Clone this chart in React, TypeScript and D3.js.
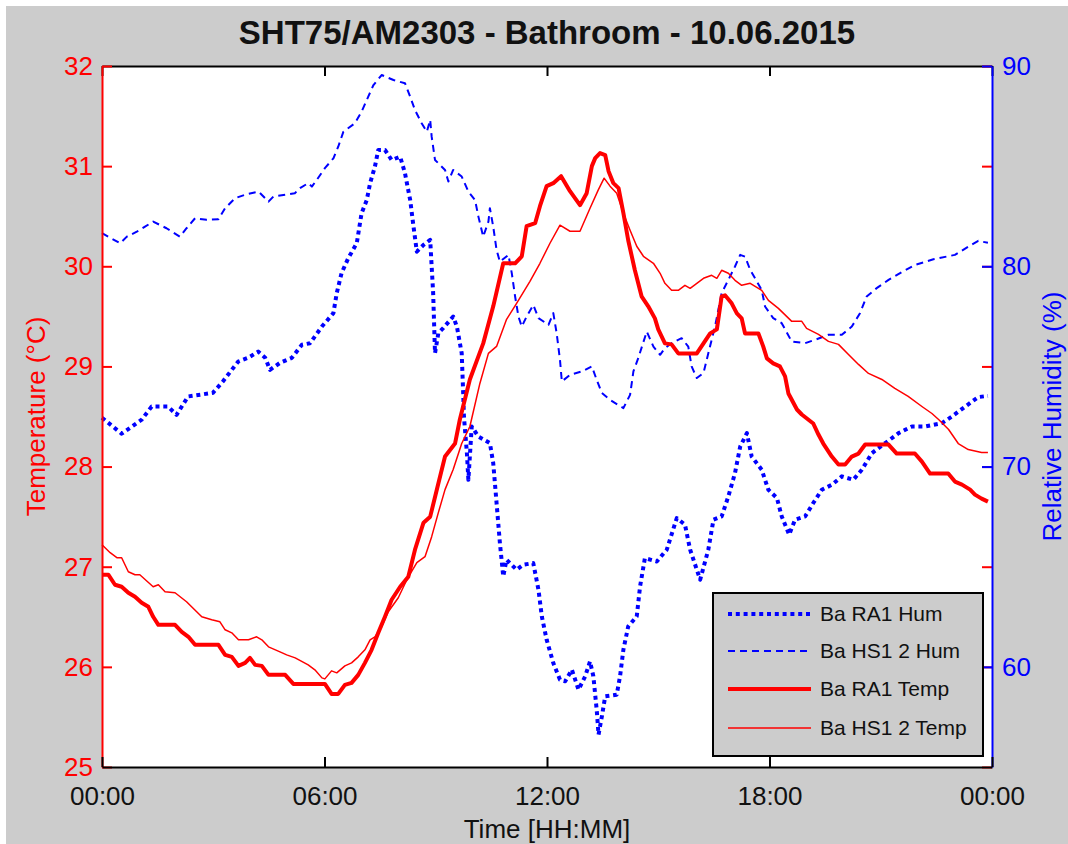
import React, { useEffect, useRef } from "react";
import * as d3 from "d3";

// ---------- data (hour of day, value) ----------
const title = "SHT75/AM2303 - Bathroom - 10.06.2015";
const xTickHours = [0, 6, 12, 18, 24];
const xTickLabels = ["00:00", "06:00", "12:00", "18:00", "00:00"];
const tempTicks = [25, 26, 27, 28, 29, 30, 31, 32];
const humTicks = [60, 70, 80, 90];
const legendLabels = ["Ba RA1 Hum", "Ba HS1 2 Hum", "Ba RA1 Temp", "Ba HS1 2 Temp"];

const raHum: [number, number][] = [
  [0, 72.44], [0.53, 71.64], [1.07, 72.34], [1.34, 73.0], [1.78, 73.0], [2.01, 72.58], [2.32, 73.5],
  [2.99, 73.68], [3.26, 74.25], [3.67, 75.24], [3.94, 75.43], [4.21, 75.74], [4.4, 75.43], [4.53, 74.83],
  [4.8, 75.18], [5.12, 75.43], [5.39, 76.08], [5.61, 76.16], [5.93, 76.99], [6.24, 77.66], [6.33, 78.66],
  [6.46, 79.66], [6.64, 80.4], [6.87, 81.15], [7.0, 82.65], [7.14, 83.31], [7.23, 84.15], [7.36, 84.98],
  [7.45, 85.81], [7.63, 85.81], [7.81, 85.31], [8.04, 85.47], [8.17, 84.65], [8.31, 83.31], [8.4, 81.98],
  [8.49, 80.73], [8.67, 81.07], [8.85, 81.32], [8.93, 78.66], [8.98, 75.66], [9.07, 76.66], [9.2, 76.91],
  [9.47, 77.49], [9.57, 76.99], [9.7, 75.66], [9.74, 73.67], [9.76, 72.5], [9.84, 70.67], [9.88, 69.34],
  [9.97, 72.0], [10.15, 71.5], [10.46, 71.17], [10.55, 70.17], [10.64, 68.18], [10.73, 66.18], [10.82, 64.52],
  [10.91, 65.35], [11.18, 64.85], [11.36, 65.1], [11.63, 65.18], [11.77, 63.85], [11.86, 62.52], [11.99, 61.36],
  [12.17, 60.19], [12.35, 59.36], [12.49, 59.28], [12.67, 59.86], [12.85, 58.86], [13.03, 59.53], [13.16, 60.27],
  [13.25, 59.53], [13.34, 57.86], [13.39, 56.62], [13.48, 57.53], [13.57, 58.53], [13.88, 58.61], [13.97, 59.53],
  [14.06, 60.86], [14.19, 62.02], [14.42, 62.52], [14.51, 64.02], [14.64, 65.43], [14.96, 65.26], [15.23, 65.85],
  [15.5, 67.43], [15.72, 67.1], [15.86, 65.85], [16.13, 64.35], [16.35, 65.85], [16.49, 67.35], [16.71, 67.51],
  [16.89, 68.51], [17.07, 69.68], [17.21, 71.0], [17.39, 71.67], [17.52, 70.5], [17.79, 69.84], [17.97, 68.84],
  [18.2, 68.43], [18.33, 67.51], [18.53, 66.6], [18.69, 67.35], [18.96, 67.51], [19.18, 68.18], [19.41, 68.84],
  [19.68, 69.09], [19.95, 69.51], [20.26, 69.34], [20.49, 69.84], [20.76, 70.67], [21.12, 71.17], [21.48, 71.67],
  [21.84, 72.0], [22.2, 72.0], [22.65, 72.17], [22.92, 72.5], [23.28, 73.0], [23.63, 73.47], [23.89, 73.53],
];

const hsHum: [number, number][] = [
  [0, 81.65], [0.49, 81.15], [0.67, 81.48], [0.94, 81.73], [1.16, 81.98], [1.38, 82.23], [1.74, 81.9],
  [2.1, 81.48], [2.28, 81.9], [2.51, 82.4], [2.82, 82.32], [3.14, 82.35], [3.32, 82.9], [3.59, 83.4],
  [3.9, 83.6], [4.22, 83.73], [4.49, 83.23], [4.62, 83.48], [5.2, 83.65], [5.34, 83.9], [5.56, 84.15],
  [5.66, 83.98], [5.79, 84.31], [6.01, 84.9], [6.24, 85.39], [6.37, 85.97], [6.51, 86.72], [6.82, 87.14],
  [7.0, 87.72], [7.18, 88.47], [7.32, 89.05], [7.54, 89.55], [7.86, 89.3], [8.17, 89.14], [8.31, 88.47],
  [8.44, 87.8], [8.62, 87.14], [8.76, 86.72], [8.85, 87.31], [8.89, 86.47], [8.98, 85.31], [9.25, 84.81],
  [9.34, 84.23], [9.47, 84.81], [9.7, 84.48], [9.88, 83.73], [10.06, 83.31], [10.15, 82.48], [10.28, 81.48],
  [10.42, 82.23], [10.46, 82.9], [10.55, 81.98], [10.64, 80.82], [10.73, 80.23], [10.96, 80.57], [11.05, 79.66],
  [11.14, 78.49], [11.23, 77.49], [11.32, 76.99], [11.45, 77.49], [11.63, 78.07], [11.77, 77.41], [12.04, 77.08],
  [12.17, 77.66], [12.26, 76.66], [12.35, 75.33], [12.4, 74.25], [12.62, 74.58], [12.94, 74.75], [13.21, 75.0],
  [13.34, 74.33], [13.48, 73.67], [13.7, 73.33], [14.06, 72.92], [14.24, 73.58], [14.33, 74.75], [14.46, 75.41],
  [14.69, 76.74], [14.87, 75.99], [15.05, 75.58], [15.18, 75.91], [15.36, 76.16], [15.63, 76.41], [15.81, 75.99],
  [15.9, 75.0], [16.04, 74.42], [16.22, 74.67], [16.35, 75.66], [16.53, 76.99], [16.71, 78.66], [16.89, 79.32],
  [17.07, 79.99], [17.21, 80.57], [17.34, 80.48], [17.48, 79.82], [17.66, 79.24], [17.79, 78.82], [17.88, 77.99],
  [18.1, 77.41], [18.33, 77.16], [18.6, 76.24], [18.96, 76.16], [19.27, 76.36], [19.59, 76.58], [19.95, 76.58],
  [20.22, 76.99], [20.44, 77.66], [20.62, 78.49], [20.89, 78.91], [21.21, 79.32], [21.57, 79.71], [21.93, 80.07],
  [22.42, 80.35], [23.0, 80.57], [23.36, 80.98], [23.63, 81.27], [23.89, 81.17],
];

const raTemp: [number, number][] = [
  [0, 26.92], [0.17, 26.92], [0.35, 26.82], [0.53, 26.8], [0.71, 26.74], [0.89, 26.7], [1.07, 26.64],
  [1.25, 26.6], [1.38, 26.5], [1.52, 26.42], [1.97, 26.42], [2.15, 26.35], [2.33, 26.3], [2.51, 26.22],
  [3.14, 26.22], [3.32, 26.12], [3.5, 26.1], [3.68, 26.01], [3.86, 26.04], [3.99, 26.09], [4.13, 26.02],
  [4.31, 26.01], [4.49, 25.92], [4.94, 25.92], [5.16, 25.83], [6.01, 25.83], [6.19, 25.73], [6.37, 25.73],
  [6.55, 25.82], [6.73, 25.84], [6.91, 25.92], [7.09, 26.04], [7.27, 26.17], [7.45, 26.34], [7.63, 26.5],
  [7.81, 26.67], [8.04, 26.8], [8.26, 26.9], [8.44, 27.17], [8.67, 27.44], [8.85, 27.5], [9.03, 27.77],
  [9.25, 28.1], [9.52, 28.23], [9.65, 28.47], [9.92, 28.87], [10.28, 29.23], [10.55, 29.6], [10.82, 30.03],
  [11.14, 30.03], [11.32, 30.1], [11.45, 30.4], [11.68, 30.43], [11.81, 30.6], [11.99, 30.8], [12.17, 30.83],
  [12.38, 30.9], [12.62, 30.75], [12.89, 30.61], [13.07, 30.73], [13.21, 31.0], [13.3, 31.08], [13.43, 31.13],
  [13.57, 31.11], [13.66, 30.95], [13.79, 30.83], [13.93, 30.78], [14.06, 30.53], [14.19, 30.26], [14.37, 29.96],
  [14.55, 29.7], [14.73, 29.6], [14.91, 29.48], [15.0, 29.37], [15.18, 29.23], [15.36, 29.22], [15.54, 29.13],
  [16.04, 29.13], [16.22, 29.23], [16.4, 29.33], [16.58, 29.37], [16.71, 29.7], [16.8, 29.71], [16.98, 29.63],
  [17.12, 29.53], [17.25, 29.48], [17.34, 29.33], [17.7, 29.33], [17.83, 29.2], [17.93, 29.08], [18.1, 29.03],
  [18.28, 29.0], [18.42, 28.9], [18.51, 28.73], [18.74, 28.57], [18.87, 28.52], [19.18, 28.43], [19.32, 28.32],
  [19.45, 28.23], [19.68, 28.1], [19.86, 28.02], [20.04, 28.02], [20.22, 28.1], [20.4, 28.13], [20.58, 28.22],
  [21.21, 28.22], [21.43, 28.13], [21.92, 28.13], [22.11, 28.05], [22.33, 27.93], [22.82, 27.93], [23.0, 27.85],
  [23.19, 27.82], [23.41, 27.77], [23.54, 27.72], [23.72, 27.68], [23.89, 27.65],
];

const hsTemp: [number, number][] = [
  [0, 27.22], [0.22, 27.14], [0.4, 27.09], [0.53, 27.09], [0.71, 26.95], [0.89, 26.92], [1.02, 26.92],
  [1.38, 26.8], [1.52, 26.82], [1.7, 26.75], [1.97, 26.74], [2.28, 26.65], [2.69, 26.5], [2.96, 26.47],
  [3.18, 26.45], [3.32, 26.37], [3.5, 26.34], [3.68, 26.27], [3.95, 26.27], [4.17, 26.3], [4.31, 26.27],
  [4.49, 26.2], [4.8, 26.15], [4.98, 26.12], [5.21, 26.09], [5.56, 26.02], [5.74, 25.97], [5.93, 25.89],
  [6.01, 25.88], [6.19, 25.96], [6.33, 25.94], [6.55, 26.01], [6.73, 26.04], [6.91, 26.1], [7.09, 26.17],
  [7.23, 26.27], [7.36, 26.3], [7.54, 26.4], [7.72, 26.55], [7.99, 26.69], [8.22, 26.87], [8.49, 27.04],
  [8.71, 27.1], [8.89, 27.3], [9.07, 27.54], [9.25, 27.77], [9.47, 27.97], [9.7, 28.23], [9.92, 28.4],
  [10.19, 28.83], [10.42, 29.13], [10.64, 29.2], [10.91, 29.47], [11.18, 29.63], [11.54, 29.85], [11.81, 30.03],
  [12.08, 30.23], [12.35, 30.41], [12.62, 30.35], [12.89, 30.35], [13.16, 30.58], [13.38, 30.76], [13.54, 30.88],
  [13.7, 30.8], [13.88, 30.73], [14.06, 30.53], [14.24, 30.36], [14.42, 30.2], [14.6, 30.1], [14.87, 30.03],
  [15.05, 29.93], [15.18, 29.83], [15.36, 29.76], [15.54, 29.76], [15.72, 29.81], [15.86, 29.78], [16.22, 29.88],
  [16.44, 29.91], [16.58, 29.88], [16.71, 29.96], [16.89, 29.93], [17.07, 29.86], [17.25, 29.81], [17.48, 29.83],
  [17.79, 29.76], [17.97, 29.66], [18.24, 29.58], [18.6, 29.45], [18.87, 29.45], [19.0, 29.38], [19.32, 29.32],
  [19.59, 29.25], [19.86, 29.22], [20.13, 29.12], [20.4, 29.02], [20.67, 28.93], [21.03, 28.87], [21.38, 28.78],
  [21.74, 28.7], [22.11, 28.6], [22.38, 28.53], [22.56, 28.47], [22.83, 28.37], [23.09, 28.23], [23.36, 28.17],
  [23.72, 28.14], [23.89, 28.14],
];

// ---------- layout ----------
const W = 1068;
const H = 844;
const PL = 102;
const PR = 992;
const PT = 66;
const PB = 767;
const RED = "#ff0000";
const BLUE = "#0000ff";
const BG = "#cccccc";
const FONT = "'Liberation Sans', Arial, Helvetica, sans-serif";

const x = d3.scaleLinear().domain([0, 24]).range([PL, PR]);
const yT = d3.scaleLinear().domain([25, 32]).range([PB, PT]);
const yH = d3.scaleLinear().domain([55, 90]).range([PB, PT]);

const humLine = d3.line<[number, number]>().x((d) => x(d[0])).y((d) => yH(d[1]));
const tempLine = d3.line<[number, number]>().x((d) => x(d[0])).y((d) => yT(d[1]));

const series = [
  { name: legendLabels[0], data: raHum, line: humLine, color: BLUE, width: 4, dash: "4 3.8" },
  { name: legendLabels[1], data: hsHum, line: humLine, color: BLUE, width: 2, dash: "7 5" },
  { name: legendLabels[2], data: raTemp, line: tempLine, color: RED, width: 4, dash: "" },
  { name: legendLabels[3], data: hsTemp, line: tempLine, color: RED, width: 1.5, dash: "" },
];

export default function App() {
  const axRef = useRef<SVGGElement>(null);

  useEffect(() => {
    const g = d3.select(axRef.current);
    g.selectAll("*").remove();

    const style = (sel: any, color: string, showLabels: boolean) => {
      sel.selectAll("path.domain").attr("stroke", color).attr("stroke-width", 2);
      sel.selectAll(".tick line").attr("stroke", color).attr("stroke-width", 2);
      sel.selectAll(".tick text")
        .attr("fill", color)
        .style("font-family", FONT)
        .style("font-size", "26px");
      if (!showLabels) sel.selectAll(".tick text").remove();
    };

    // top (mirror, black)
    const top = g.append("g").attr("transform", `translate(0,${PT})`)
      .call(d3.axisTop(x).tickValues(xTickHours).tickSizeInner(-10).tickSizeOuter(0));
    style(top, "#000", false);

    // left temperature
    const left = g.append("g").attr("transform", `translate(${PL},0)`)
      .call(d3.axisLeft(yT).tickValues(tempTicks).tickFormat(d3.format("d"))
        .tickSizeInner(-10).tickSizeOuter(0).tickPadding(9));
    style(left, RED, true);

    // right temperature ticks (mirror)
    const rightT = g.append("g").attr("transform", `translate(${PR},0)`)
      .call(d3.axisRight(yT).tickValues(tempTicks).tickSizeInner(-10).tickSizeOuter(0));
    style(rightT, RED, false);
    rightT.select("path.domain").remove();

    // right humidity
    const rightH = g.append("g").attr("transform", `translate(${PR},0)`)
      .call(d3.axisRight(yH).tickValues(humTicks).tickFormat(d3.format("d"))
        .tickSizeInner(-10).tickSizeOuter(0).tickPadding(10));
    style(rightH, BLUE, true);

    // bottom
    const bottom = g.append("g").attr("transform", `translate(0,${PB})`)
      .call(d3.axisBottom(x).tickValues(xTickHours)
        .tickFormat((_d: any, i: number) => xTickLabels[i])
        .tickSizeInner(-10).tickSizeOuter(0).tickPadding(20));
    style(bottom, "#000", true);
    bottom.selectAll(".tick text").attr("fill", "#111");
  }, []);

  const legX = 713;
  const legY = 593;
  const legW = 270;
  const legH = 163;
  const rowY = [614, 651, 689, 728];

  return (
    <svg width={W} height={H} style={{ position: "absolute", left: 0, top: 0, display: "block" }}
      xmlns="http://www.w3.org/2000/svg">
      <rect x={0} y={0} width={W} height={H} fill="#ffffff" />
      <rect x={6} y={6} width={W - 6} height={H - 6} fill={BG} />
      <rect x={PL} y={PT} width={PR - PL} height={PB - PT} fill="#ffffff" />

      <text x={(PL + PR) / 2} y={44} textAnchor="middle" fontFamily={FONT} fontWeight="bold"
        fontSize={33} fill="#111">{title}</text>

      <g>
        {series.map((s) => (
          <path key={s.name} d={s.line(s.data) || ""} fill="none" stroke={s.color}
            strokeWidth={s.width} strokeDasharray={s.dash || undefined}
            strokeLinejoin="round" />
        ))}
      </g>

      <g ref={axRef} />

      <text transform={`translate(36,${(PT + PB) / 2}) rotate(-90)`} textAnchor="middle"
        dominantBaseline="central" fontFamily={FONT} fontSize={26} fill={RED}>Temperature (°C)</text>
      <text transform={`translate(1052,${(PT + PB) / 2}) rotate(-90)`} textAnchor="middle"
        dominantBaseline="central" fontFamily={FONT} fontSize={26} fill={BLUE}>Relative Humidity (%)</text>
      <text x={(PL + PR) / 2} y={838} textAnchor="middle" fontFamily={FONT} fontSize={26}
        fill="#111">Time [HH:MM]</text>

      <g>
        <rect x={legX} y={legY} width={legW} height={legH} fill={BG} stroke="#000" strokeWidth={2} />
        {series.map((s, i) => (
          <g key={s.name}>
            <line x1={728} x2={811} y1={rowY[i]} y2={rowY[i]} stroke={s.color}
              strokeWidth={s.width} strokeDasharray={s.dash || undefined} />
            <text x={820} y={rowY[i]} dy="0.35em" fontFamily={FONT} fontSize={21} fill="#111">{s.name}</text>
          </g>
        ))}
      </g>
    </svg>
  );
}
